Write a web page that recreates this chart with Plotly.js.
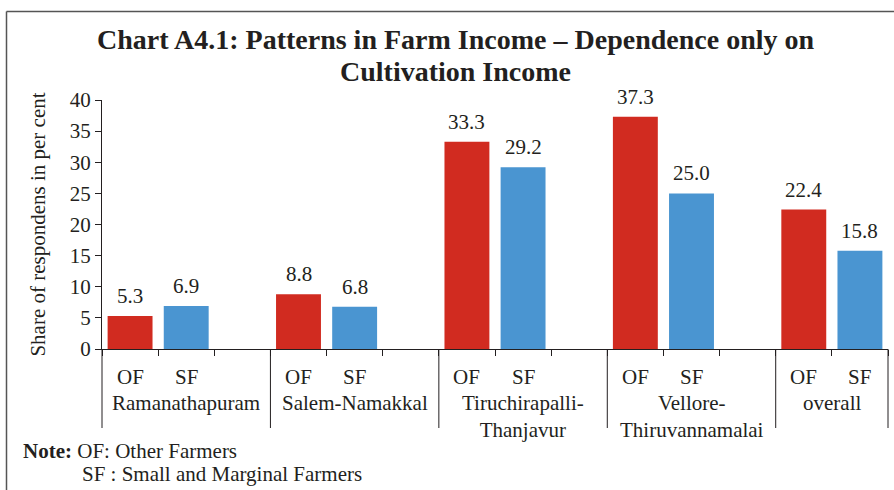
<!DOCTYPE html>
<html>
<head>
<meta charset="utf-8">
<script src="https://cdn.plot.ly/plotly-3.0.1.min.js"></script>
<style>
html,body{margin:0;padding:0;background:#fff;}
#chart{width:894px;height:490px;}
</style>
</head>
<body>
<div id="chart"></div>
<script>
// ---- data ----
const groups = ["Ramanathapuram", "Salem-Namakkal", "Tiruchirapalli-<br>Thanjavur", "Vellore-<br>Thiruvannamalai", "overall"];
const seriesNames = ["OF", "SF"];
const ofValues = [5.3, 8.8, 33.3, 37.3, 22.4];
const sfValues = [6.9, 6.8, 29.2, 25.0, 15.8];
const yTicks = [0, 5, 10, 15, 20, 25, 30, 35, 40];
const titleLines = ["Chart A4.1: Patterns in Farm Income \u2013 Dependence only on", "Cultivation Income"];
const yTitle = "Share of respondens in per cent";
const noteLines = ["<b>Note:</b> OF: Other Farmers", "SF : Small and Marginal Farmers"];

// ---- layout helpers ----
const TXT = "#231F20";
const FONT = "Liberation Serif, Times New Roman, serif";
const FS = 21;
const slotsPerGroup = 3;
const nSlots = groups.length * slotsPerGroup - 1;
const L = 102, R = 6, T = 100, B = 141, W = 894, H = 490;
const pw = W - L - R, ph = H - T - B;
const py = p => (H - B - p) / ph;   // pixel y -> paper y
const px = p => (p - L) / pw;       // pixel x -> paper x

const ofX = groups.map((g, i) => i * slotsPerGroup + 0.5);
const sfX = groups.map((g, i) => i * slotsPerGroup + 1.5);

const traces = [
  {type: "bar", name: seriesNames[0], x: ofX, y: ofValues, width: 0.8,
   marker: {color: "#D12B20"}, hoverinfo: "y"},
  {type: "bar", name: seriesNames[1], x: sfX, y: sfValues, width: 0.8,
   marker: {color: "#4A95D1"}, hoverinfo: "y"}
];

const annotations = [];
// value labels
[[ofX, ofValues], [sfX, sfValues]].forEach(([xs, ys]) => {
  xs.forEach((x, i) => annotations.push({
    x: x, y: ys[i], xref: "x", yref: "y", text: ys[i].toFixed(1),
    showarrow: false, yanchor: "bottom", yshift: 6,
    font: {family: FONT, size: FS, color: TXT}
  }));
});
// OF / SF labels and group names
groups.forEach((g, i) => {
  annotations.push({x: ofX[i], y: py(377), xref: "x", yref: "paper", text: seriesNames[0],
    showarrow: false, yanchor: "middle", font: {family: FONT, size: FS, color: TXT}});
  annotations.push({x: sfX[i], y: py(377), xref: "x", yref: "paper", text: seriesNames[1],
    showarrow: false, yanchor: "middle", font: {family: FONT, size: FS, color: TXT}});
  const start = i * slotsPerGroup;
  const end = Math.min(start + slotsPerGroup, nSlots);
  annotations.push({x: (start + end) / 2, y: py(389), xref: "x", yref: "paper", text: g,
    showarrow: false, yanchor: "top", font: {family: FONT, size: FS, color: TXT}});
});
// title lines
annotations.push({x: px(455), y: py(40), xref: "paper", yref: "paper", text: "<b>" + titleLines[0] + "</b>",
  showarrow: false, xanchor: "center", yanchor: "middle", font: {family: FONT, size: 28, color: TXT}});
annotations.push({x: px(455), y: py(72), xref: "paper", yref: "paper", text: "<b>" + titleLines[1] + "</b>",
  showarrow: false, xanchor: "center", yanchor: "middle", font: {family: FONT, size: 28, color: TXT}});
// note
annotations.push({x: px(21), y: py(451), xref: "paper", yref: "paper", text: noteLines[0],
  showarrow: false, xanchor: "left", yanchor: "middle", font: {family: FONT, size: FS, color: TXT}});
annotations.push({x: px(80), y: py(474), xref: "paper", yref: "paper", text: noteLines[1],
  showarrow: false, xanchor: "left", yanchor: "middle", font: {family: FONT, size: FS, color: TXT}});

const shapes = [];
// group separator lines
const bounds = groups.map((g, i) => i * slotsPerGroup).concat([nSlots]);
bounds.forEach(b => shapes.push({type: "line", xref: "paper", yref: "paper",
  x0: b / nSlots, x1: b / nSlots, y0: 0, y1: py(428), line: {color: TXT, width: 1}}));
// frame (top + left)
shapes.push({type: "line", xref: "paper", yref: "paper", x0: px(6.5), x1: px(894), y0: py(11.5), y1: py(11.5),
  line: {color: "#555", width: 1.5}});
shapes.push({type: "line", xref: "paper", yref: "paper", x0: px(6.5), x1: px(6.5), y0: py(11.5), y1: py(490),
  line: {color: "#555", width: 1.5}});

const layout = {
  width: W, height: H,
  margin: {l: L, r: R, t: T, b: B, autoexpand: false},
  paper_bgcolor: "#fff", plot_bgcolor: "#fff",
  showlegend: false,
  barmode: "overlay",
  font: {family: FONT, color: TXT, size: FS},
  xaxis: {range: [0, nSlots], showline: true, linecolor: TXT, linewidth: 1,
    ticks: "outside", ticklen: 6, tickcolor: TXT, tickvals: Array.from({length: nSlots + 1}, (_, i) => i),
    showticklabels: false, showgrid: false, zeroline: false, fixedrange: true},
  yaxis: {range: [0, 40], tickvals: yTicks, showline: true, linecolor: TXT, linewidth: 1,
    ticks: "outside", ticklen: 6, tickcolor: TXT, showgrid: false, zeroline: false,
    tickfont: {family: FONT, size: FS, color: TXT},
    title: {text: yTitle, font: {family: FONT, size: FS, color: TXT}, standoff: 18},
    automargin: false, fixedrange: true},
  annotations: annotations,
  shapes: shapes
};

Plotly.newPlot("chart", traces, layout, {displayModeBar: false, staticPlot: true});
</script>
</body>
</html>
